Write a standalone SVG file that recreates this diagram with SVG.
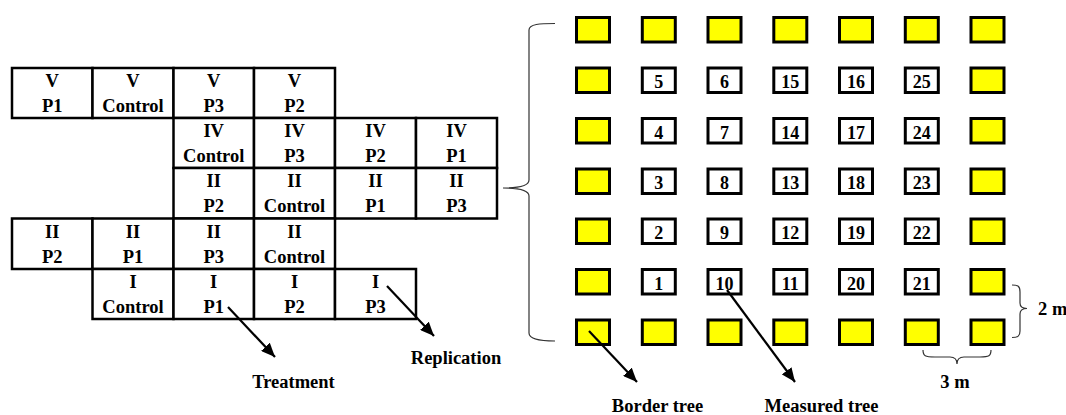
<svg xmlns="http://www.w3.org/2000/svg" width="1066" height="415" viewBox="0 0 1066 415">
<style>
.cell{fill:#fff;stroke:#000;stroke-width:2.5}
.t{font-family:"Liberation Serif","Times New Roman",serif;font-weight:bold;font-size:18.5px;text-anchor:middle;fill:#000}
.n{font-family:"Liberation Serif","Times New Roman",serif;font-weight:bold;font-size:18px;text-anchor:middle;fill:#000}
.b{fill:#ffff00;stroke:#000;stroke-width:3}
.m{fill:#fff;stroke:#000;stroke-width:3}
.arr{stroke:#000;stroke-width:2.2;fill:none;marker-end:url(#ah)}
.br{stroke:#333;stroke-width:1.2;fill:none}
</style>
<defs>
<marker id="ah" markerUnits="userSpaceOnUse" markerWidth="16" markerHeight="12" refX="14" refY="6" orient="auto">
<path d="M0,0 L14,6 L0,12 Z" fill="#000"/>
</marker>
</defs>
<rect width="1066" height="415" fill="#fff"/>
<g id="table">
<g id="r1c1"><rect class="cell" x="12" y="68" width="80.5" height="50"/><text class="t" x="52.3" y="87">V</text><text class="t" x="52.3" y="112">P1</text></g>
<g id="r1c2"><rect class="cell" x="92.5" y="68" width="81" height="50"/><text class="t" x="133" y="87">V</text><text class="t" x="133" y="112">Control</text></g>
<g id="r1c3"><rect class="cell" x="173.5" y="68" width="80.5" height="50"/><text class="t" x="213.7" y="87">V</text><text class="t" x="213.7" y="112">P3</text></g>
<g id="r1c4"><rect class="cell" x="254" y="68" width="81" height="50"/><text class="t" x="294.5" y="87">V</text><text class="t" x="294.5" y="112">P2</text></g>

<g id="r2c3"><rect class="cell" x="173.5" y="118" width="80.5" height="50"/><text class="t" x="213.7" y="137">IV</text><text class="t" x="213.7" y="162">Control</text></g>
<g id="r2c4"><rect class="cell" x="254" y="118" width="81" height="50"/><text class="t" x="294.5" y="137">IV</text><text class="t" x="294.5" y="162">P3</text></g>
<g id="r2c5"><rect class="cell" x="335" y="118" width="81" height="50"/><text class="t" x="375.5" y="137">IV</text><text class="t" x="375.5" y="162">P2</text></g>
<g id="r2c6"><rect class="cell" x="416" y="118" width="81" height="50"/><text class="t" x="456.5" y="137">IV</text><text class="t" x="456.5" y="162">P1</text></g>

<g id="r3c3"><rect class="cell" x="173.5" y="168" width="80.5" height="50.5"/><text class="t" x="213.7" y="187">II</text><text class="t" x="213.7" y="212">P2</text></g>
<g id="r3c4"><rect class="cell" x="254" y="168" width="81" height="50.5"/><text class="t" x="294.5" y="187">II</text><text class="t" x="294.5" y="212">Control</text></g>
<g id="r3c5"><rect class="cell" x="335" y="168" width="81" height="50.5"/><text class="t" x="375.5" y="187">II</text><text class="t" x="375.5" y="212">P1</text></g>
<g id="r3c6"><rect class="cell" x="416" y="168" width="81" height="50.5"/><text class="t" x="456.5" y="187">II</text><text class="t" x="456.5" y="212">P3</text></g>

<g id="r4c1"><rect class="cell" x="12" y="218.5" width="80.5" height="50.5"/><text class="t" x="52.3" y="238">II</text><text class="t" x="52.3" y="263">P2</text></g>
<g id="r4c2"><rect class="cell" x="92.5" y="218.5" width="81" height="50.5"/><text class="t" x="133" y="238">II</text><text class="t" x="133" y="263">P1</text></g>
<g id="r4c3"><rect class="cell" x="173.5" y="218.5" width="80.5" height="50.5"/><text class="t" x="213.7" y="238">II</text><text class="t" x="213.7" y="263">P3</text></g>
<g id="r4c4"><rect class="cell" x="254" y="218.5" width="81" height="50.5"/><text class="t" x="294.5" y="238">II</text><text class="t" x="294.5" y="263">Control</text></g>

<g id="r5c2"><rect class="cell" x="92.5" y="269" width="81" height="50"/><text class="t" x="133" y="288">I</text><text class="t" x="133" y="313">Control</text></g>
<g id="r5c3"><rect class="cell" x="173.5" y="269" width="80.5" height="50"/><text class="t" x="213.7" y="288">I</text><text class="t" x="213.7" y="313">P1</text></g>
<g id="r5c4"><rect class="cell" x="254" y="269" width="81" height="50"/><text class="t" x="294.5" y="288">I</text><text class="t" x="294.5" y="313">P2</text></g>
<g id="r5c5"><rect class="cell" x="335" y="269" width="81" height="50"/><text class="t" x="375.5" y="288">I</text><text class="t" x="375.5" y="313">P3</text></g>
</g>

<g id="grid">
<!-- row 1 -->
<g id="g11"><rect class="b" x="576.5" y="17.5" width="33" height="24.5"/></g>
<g id="g12"><rect class="b" x="642.3" y="17.5" width="33" height="24.5"/></g>
<g id="g13"><rect class="b" x="708" y="17.5" width="33" height="24.5"/></g>
<g id="g14"><rect class="b" x="773.8" y="17.5" width="33" height="24.5"/></g>
<g id="g15"><rect class="b" x="839.5" y="17.5" width="33" height="24.5"/></g>
<g id="g16"><rect class="b" x="905.3" y="17.5" width="33" height="24.5"/></g>
<g id="g17"><rect class="b" x="971" y="17.5" width="33" height="24.5"/></g>
<!-- row 2 -->
<g id="g21"><rect class="b" x="576.5" y="68" width="33" height="24.5"/></g>
<g id="t5"><rect class="m" x="642.3" y="68" width="33" height="24.5"/><text class="n" x="658.8" y="88">5</text></g>
<g id="t6"><rect class="m" x="708" y="68" width="33" height="24.5"/><text class="n" x="724.5" y="88">6</text></g>
<g id="t15"><rect class="m" x="773.8" y="68" width="33" height="24.5"/><text class="n" x="790.3" y="88">15</text></g>
<g id="t16"><rect class="m" x="839.5" y="68" width="33" height="24.5"/><text class="n" x="856" y="88">16</text></g>
<g id="t25"><rect class="m" x="905.3" y="68" width="33" height="24.5"/><text class="n" x="921.8" y="88">25</text></g>
<g id="g27"><rect class="b" x="971" y="68" width="33" height="24.5"/></g>
<!-- row 3 -->
<g id="g31"><rect class="b" x="576.5" y="118.5" width="33" height="24.5"/></g>
<g id="t4"><rect class="m" x="642.3" y="118.5" width="33" height="24.5"/><text class="n" x="658.8" y="138.5">4</text></g>
<g id="t7"><rect class="m" x="708" y="118.5" width="33" height="24.5"/><text class="n" x="724.5" y="138.5">7</text></g>
<g id="t14"><rect class="m" x="773.8" y="118.5" width="33" height="24.5"/><text class="n" x="790.3" y="138.5">14</text></g>
<g id="t17"><rect class="m" x="839.5" y="118.5" width="33" height="24.5"/><text class="n" x="856" y="138.5">17</text></g>
<g id="t24"><rect class="m" x="905.3" y="118.5" width="33" height="24.5"/><text class="n" x="921.8" y="138.5">24</text></g>
<g id="g37"><rect class="b" x="971" y="118.5" width="33" height="24.5"/></g>
<!-- row 4 -->
<g id="g41"><rect class="b" x="576.5" y="169" width="33" height="24.5"/></g>
<g id="t3"><rect class="m" x="642.3" y="169" width="33" height="24.5"/><text class="n" x="658.8" y="189">3</text></g>
<g id="t8"><rect class="m" x="708" y="169" width="33" height="24.5"/><text class="n" x="724.5" y="189">8</text></g>
<g id="t13"><rect class="m" x="773.8" y="169" width="33" height="24.5"/><text class="n" x="790.3" y="189">13</text></g>
<g id="t18"><rect class="m" x="839.5" y="169" width="33" height="24.5"/><text class="n" x="856" y="189">18</text></g>
<g id="t23"><rect class="m" x="905.3" y="169" width="33" height="24.5"/><text class="n" x="921.8" y="189">23</text></g>
<g id="g47"><rect class="b" x="971" y="169" width="33" height="24.5"/></g>
<!-- row 5 -->
<g id="g51"><rect class="b" x="576.5" y="219" width="33" height="24.5"/></g>
<g id="t2"><rect class="m" x="642.3" y="219" width="33" height="24.5"/><text class="n" x="658.8" y="239">2</text></g>
<g id="t9"><rect class="m" x="708" y="219" width="33" height="24.5"/><text class="n" x="724.5" y="239">9</text></g>
<g id="t12"><rect class="m" x="773.8" y="219" width="33" height="24.5"/><text class="n" x="790.3" y="239">12</text></g>
<g id="t19"><rect class="m" x="839.5" y="219" width="33" height="24.5"/><text class="n" x="856" y="239">19</text></g>
<g id="t22"><rect class="m" x="905.3" y="219" width="33" height="24.5"/><text class="n" x="921.8" y="239">22</text></g>
<g id="g57"><rect class="b" x="971" y="219" width="33" height="24.5"/></g>
<!-- row 6 -->
<g id="g61"><rect class="b" x="576.5" y="269.5" width="33" height="24.5"/></g>
<g id="t1"><rect class="m" x="642.3" y="269.5" width="33" height="24.5"/><text class="n" x="658.8" y="289.5">1</text></g>
<g id="t10"><rect class="m" x="708" y="269.5" width="33" height="24.5"/><text class="n" x="724.5" y="289.5">10</text></g>
<g id="t11"><rect class="m" x="773.8" y="269.5" width="33" height="24.5"/><text class="n" x="790.3" y="289.5">11</text></g>
<g id="t20"><rect class="m" x="839.5" y="269.5" width="33" height="24.5"/><text class="n" x="856" y="289.5">20</text></g>
<g id="t21"><rect class="m" x="905.3" y="269.5" width="33" height="24.5"/><text class="n" x="921.8" y="289.5">21</text></g>
<g id="g67"><rect class="b" x="971" y="269.5" width="33" height="24.5"/></g>
<!-- row 7 -->
<g id="g71"><rect class="b" x="576.5" y="320" width="33" height="24.5"/></g>
<g id="g72"><rect class="b" x="642.3" y="320" width="33" height="24.5"/></g>
<g id="g73"><rect class="b" x="708" y="320" width="33" height="24.5"/></g>
<g id="g74"><rect class="b" x="773.8" y="320" width="33" height="24.5"/></g>
<g id="g75"><rect class="b" x="839.5" y="320" width="33" height="24.5"/></g>
<g id="g76"><rect class="b" x="905.3" y="320" width="33" height="24.5"/></g>
<g id="g77"><rect class="b" x="971" y="320" width="33" height="24.5"/></g>
</g>

<g id="connectors">
<path class="br" d="M555,23.5 C540,23.5 529,24 529,30 L529,180 C529,186 518,188 503,188 C518,188 529,190 529,196 L529,333 C529,339 540,341 555,341"/>
<path class="br" d="M923,350 C923,356 925,357 935,357 L950,357 C955,357 957,359 957,364 C957,359 959,357 964,357 L980,357 C989,357 991,356 991,350"/>
<path class="br" d="M1012,285 C1018,285 1020,286 1020,292 L1020,303 C1020,307 1022,308.5 1027,308.5 C1022,308.5 1020,310 1020,314 L1020,331 C1020,336 1018,337.5 1012,337.5"/>
<line class="arr" x1="228" y1="307" x2="275" y2="357"/>
<line class="arr" x1="387" y1="286" x2="434" y2="336"/>
<line class="arr" x1="589" y1="331" x2="637" y2="382"/>
<line class="arr" x1="727" y1="290" x2="795" y2="382"/>
</g>

<g id="labels">
<text class="t" x="293.5" y="388">Treatment</text>
<text class="t" x="456" y="364">Replication</text>
<text class="t" x="657.5" y="412">Border tree</text>
<text class="t" x="821.5" y="412">Measured tree</text>
<text class="t" x="955" y="388">3 m</text>
<text class="t" x="1038" y="315" style="text-anchor:start">2 m</text>
</g>
</svg>
